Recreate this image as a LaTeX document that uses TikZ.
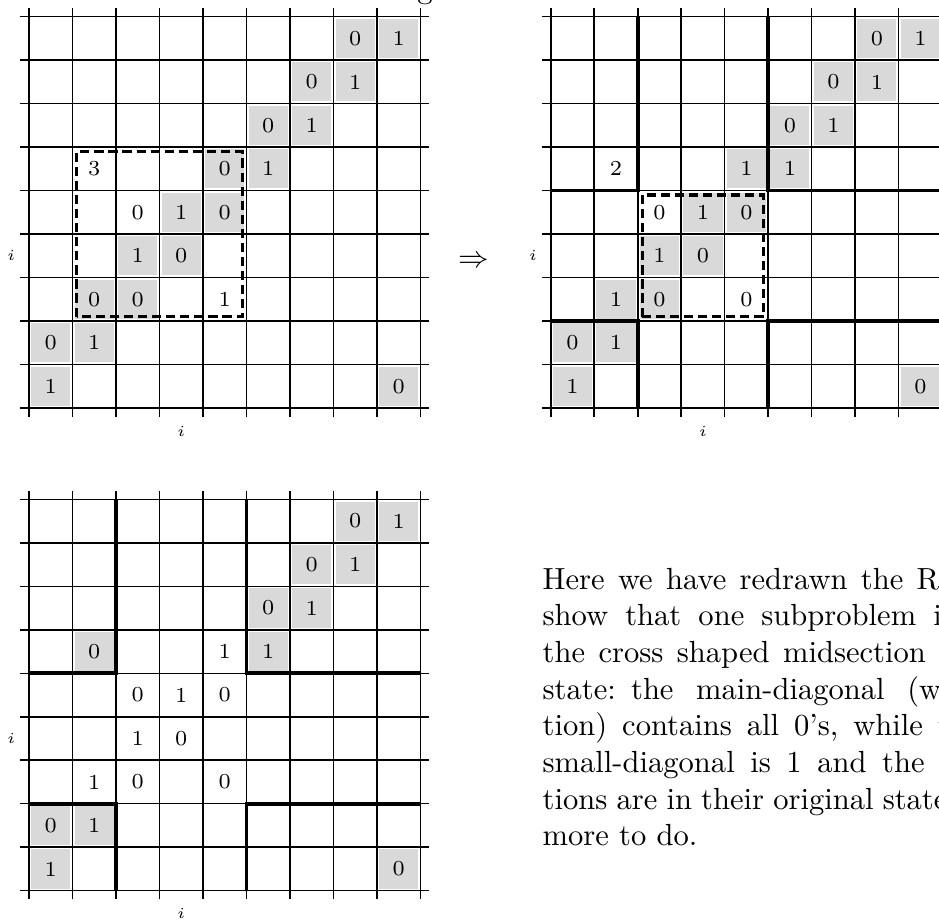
\documentclass[tikz,border=0pt]{standalone}
\usepackage{tikz}

% word spacing of one text line, as set in the justified paragraph
\newcommand{\wordsp}[2]{{\spaceskip=#1\relax #2}}

\begin{document}
\begin{tikzpicture}[x=0.5cm, y=0.5cm,
    gridline/.style={line width=0.5pt, draw=black},
    part/.style={line width=1.2pt, draw=black},
    sub/.style={line width=1pt, dash pattern=on 3pt off 1.6pt, draw=black},
    cell/.style={minimum size=0.45cm, inner sep=0pt, font=\scriptsize},
    shade/.style={cell, fill=black!15},
    lbl/.style={inner sep=0pt, font=\tiny},
    para/.style={anchor=base west, inner sep=0pt, text width=7cm, align=left}
]
\useasboundingbox (-0.667,-11.752) rectangle (20.929,9.384);

% the three 9x9 grids with their index labels
\foreach \dx/\dy/\g in {0/0/a, 12/0/b, 0/-11.1/c}{
  \begin{scope}[shift={(\dx,\dy)}]
    \foreach \k in {0,...,9}{
      \draw[gridline] (-0.2,\k) -- (9.2,\k);
      \draw[gridline] (\k,-0.2) -- (\k,9.2);
    }
    \node[lbl] (\g-row) at (-0.41,3.5) {$i$};
    \node[lbl] (\g-col) at (3.5,-0.53) {$i$};
  \end{scope}
}

% grid a: before
\begin{scope}
  \foreach \c/\r/\v in {7/8/0, 8/8/1, 6/7/0, 7/7/1, 5/6/0, 6/6/1, 4/5/0, 5/5/1,
      3/4/1, 4/4/0, 2/3/1, 3/3/0, 1/2/0, 2/2/0, 0/1/0, 1/1/1, 0/0/1, 8/0/0}
    {\node[shade] (a-\c\r) at (\c+0.5,\r+0.5) {\v};}
  \foreach \c/\r/\v in {1/5/3, 2/4/0, 4/2/1}
    {\node[cell] (a-\c\r) at (\c+0.5,\r+0.5) {\v};}
  \draw[sub] (1.1,2.1) rectangle (4.9,5.9);
\end{scope}

\node (imp) at (10.23,3.35) {$\Rightarrow$};

% grid b: after
\begin{scope}[shift={(12,0)}]
  \foreach \c/\r/\v in {7/8/0, 8/8/1, 6/7/0, 7/7/1, 5/6/0, 6/6/1, 4/5/1, 5/5/1,
      3/4/1, 4/4/0, 2/3/1, 3/3/0, 1/2/1, 2/2/0, 0/1/0, 1/1/1, 0/0/1, 8/0/0}
    {\node[shade] (b-\c\r) at (\c+0.5,\r+0.5) {\v};}
  \foreach \c/\r/\v in {1/5/2, 2/4/0, 4/2/0}
    {\node[cell] (b-\c\r) at (\c+0.5,\r+0.5) {\v};}
  \draw[sub] (2.1,2.1) rectangle (4.9,4.9);
\end{scope}

% grid c: midsection done
\begin{scope}[shift={(0,-11.1)}]
  \foreach \c/\r/\v in {7/8/0, 8/8/1, 6/7/0, 7/7/1, 5/6/0, 6/6/1, 1/5/0, 5/5/1,
      0/1/0, 1/1/1, 0/0/1, 8/0/0}
    {\node[shade] (c-\c\r) at (\c+0.5,\r+0.5) {\v};}
  \foreach \c/\r/\v in {4/5/1, 2/4/0, 3/4/1, 4/4/0, 2/3/1, 3/3/0, 1/2/1, 2/2/0, 4/2/0}
    {\node[cell] (c-\c\r) at (\c+0.5,\r+0.5) {\v};}
\end{scope}

% section borders
\foreach \dx/\dy in {12/0, 0/-11.1}{
  \begin{scope}[shift={(\dx,\dy)}]
    \draw[part] (2,9) |- (0,5);
    \draw[part] (0,2) -| (2,0);
    \draw[part] (5,9) |- (9,5);
    \draw[part] (9,2) -| (5,0);
  \end{scope}
}

\node[anchor=base west, inner sep=0pt] (cut) at (8.92,9.43) {g};

\node[para] (txt) at (11.8,-4.163) {%
  \wordsp{4.35pt}{Here we have redrawn the RHS to}\\
  \wordsp{5.6pt}{show that one subproblem is}\\
  \wordsp{4.4pt}{the cross shaped midsection is}\\
  \wordsp{7.4pt}{state: the main-diagonal (within}\\
  \wordsp{4.9pt}{tion) contains all 0's, while the}\\
  \wordsp{5.1pt}{small-diagonal is 1 and the other}\\
  \wordsp{3.0pt}{tions are in their original state.}\\
  more to do.};
\end{tikzpicture}
\end{document}
